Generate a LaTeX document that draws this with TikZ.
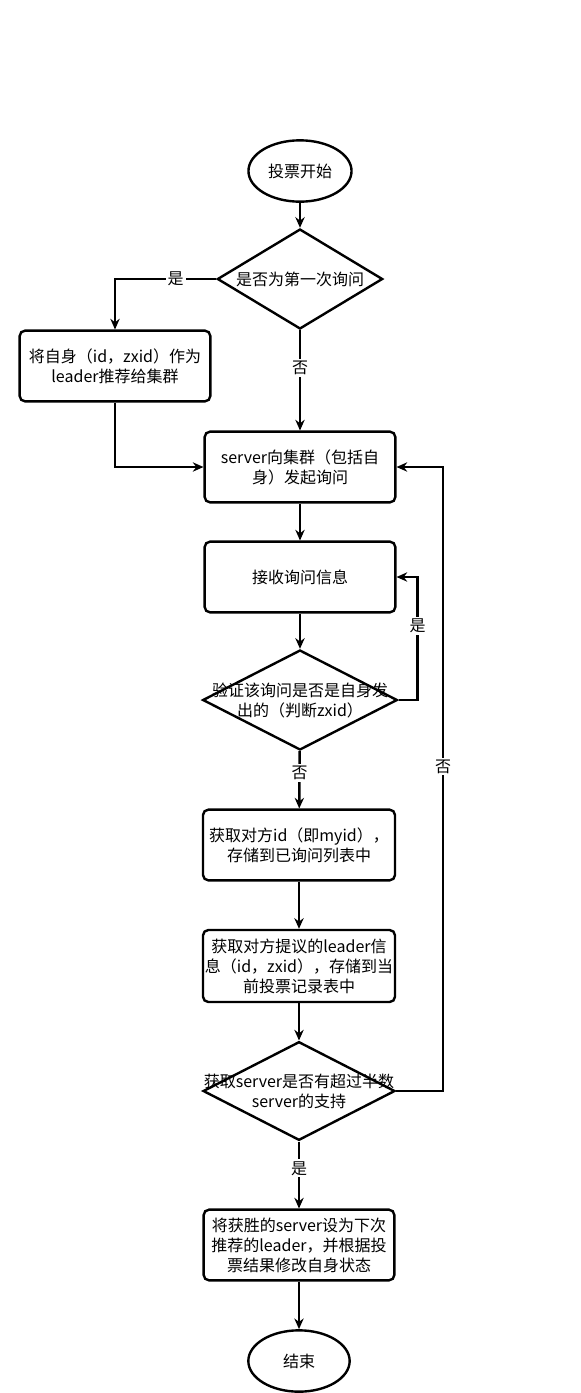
\documentclass[tikz,border=0pt]{standalone}
\usepackage{fontspec}
\setmainfont{Noto Sans CJK SC}
\usetikzlibrary{shapes.geometric,arrows.meta}

\begin{document}
\begin{tikzpicture}[x=0.75pt,y=-0.75pt,line width=1.8pt,
  every node/.style={font=\fontsize{12}{15}\selectfont},
  box/.style={draw,rounded corners=4pt,minimum width=143pt,minimum height=53pt,align=center,inner sep=1pt},
  term/.style={draw,ellipse,minimum width=76pt,minimum height=46pt},
  cond/.style={draw,diamond,inner sep=0pt},
  arr/.style={-{Stealth[length=8pt,width=7pt]}},
  lab/.style={fill=white,inner sep=1.5pt}]
\useasboundingbox (0,0) rectangle (581,1393);
\node[term] (start) at (300,171) {投票开始};
\node[cond,minimum width=124pt,minimum height=75pt,label={center:是否为第一次询问}] (first) at (300,279) {};
\node[box] (self) at (115,366) {将自身（id，zxid）作为\\leader推荐给集群};
\node[box] (ask) at (300,467) {server向集群（包括自\\身）发起询问};
\node[box] (recv) at (300,577) {接收询问信息};
\node[cond,minimum width=146pt,minimum height=75pt,label={[align=center]center:验证该询问是否是自身发\\出的（判断zxid）}] (own) at (300,700) {};
\node[box,minimum width=144pt] (peer) at (299,845) {获取对方id（即myid），\\存储到已询问列表中};
\node[box,minimum width=144pt,minimum height=54pt] (vote) at (299,966) {获取对方提议的leader信\\息（id，zxid），存储到当\\前投票记录表中};
\node[cond,minimum width=144pt,minimum height=74pt,label={[align=center]center:获取server是否有超过半数\\server的支持}] (half) at (299,1091) {};
\node[box] (win) at (299,1245) {将获胜的server设为下次\\推荐的leader，并根据投\\票结果修改自身状态};
\node[term] (stop) at (299,1361) {结束};

\draw[arr] (start) -- (first);
\draw[arr] (first.west) -| node[lab,pos=0.2] {是} (self.north);
\draw[arr] (first) -- node[lab,pos=0.38] {否} (ask);
\draw[arr] (self.south) |- (ask.west);
\draw[arr] (ask) -- (recv);
\draw[arr] (recv) -- (own);
\draw[arr] (own.east) -- ++(19,0) |- node[lab,pos=0.3] {是} (recv.east);
\draw[arr] (own) -- node[lab,pos=0.38] {否} (peer);
\draw[arr] (peer) -- (vote);
\draw[arr] (vote) -- (half);
\draw[arr] (half.east) -- ++(47,0) |- node[lab,pos=0.26] {否} (ask.east);
\draw[arr] (half) -- node[lab,pos=0.4] {是} (win);
\draw[arr] (win) -- (stop);
\end{tikzpicture}
\end{document}
